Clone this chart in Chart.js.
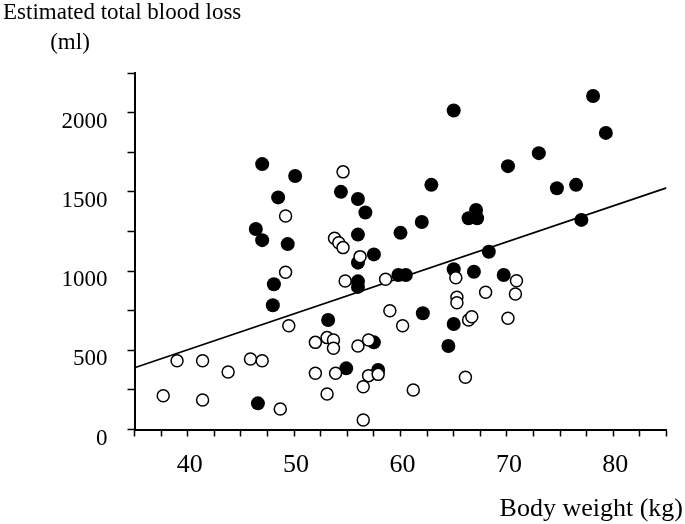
<!DOCTYPE html>
<html>
<head>
<meta charset="utf-8">
<script src="https://cdn.jsdelivr.net/npm/chart.js@4/dist/chart.umd.min.js"></script>
<style>
    html, body { margin: 0; padding: 0; background: #fff; }
    #wrap { width: 685px; height: 524px; position: relative; }
</style>
</head>
<body>
<div id="wrap"><canvas id="blood-chart"></canvas></div>
<script>
// Filled circles: body weight (kg) / estimated blood loss (ml)
const filledWeight = [47.0, 50.1, 54.4, 56.0, 48.5, 46.4, 47.0, 49.4, 56.7, 56.0,
    57.5, 56.0, 56.0, 56.0, 48.1, 48.0, 53.2, 57.5, 54.9, 57.9,
    46.6, 59.8, 60.5, 62.1, 60.0, 62.0, 62.9, 65.0, 65.0, 65.0,
    64.5, 66.9, 66.4, 67.2, 67.1, 68.3, 69.7, 70.1, 73.0, 74.7,
    76.5, 77.0, 78.1, 79.3];
const filledLoss = [1675, 1600, 1500, 1455, 1465, 1265, 1195, 1170, 1370, 1230,
    1105, 1053, 935, 900, 917, 784, 691, 550, 386, 376,
    165, 975, 975, 734, 1241, 1310, 1544, 2013, 1011, 666,
    527, 996, 1333, 1333, 1386, 1122, 975, 1662, 1744, 1523,
    1544, 1323, 2105, 1872];

// Open circles
const openWeight = [54.6, 49.2, 53.8, 54.2, 54.6, 56.2, 49.2, 54.8, 49.5, 58.6,
    52.0, 53.1, 53.7, 53.7, 56.0, 57.0, 59.0, 60.2, 39.0, 41.4,
    45.9, 47.0, 43.8, 52.0, 53.9, 57.0, 57.9, 37.7, 41.4, 53.1,
    48.7, 56.5, 56.5, 61.2, 66.1, 65.2, 65.3, 65.3, 66.4, 66.7,
    68.0, 70.1, 70.9, 70.8];
const openLoss = [1626, 1348, 1207, 1179, 1148, 1091, 992, 937, 655, 948,
    550, 580, 565, 513, 527, 565, 750, 655, 434, 434,
    445, 434, 363, 355, 355, 340, 348, 213, 186, 224,
    129, 270, 60, 249, 330, 958, 835, 800, 691, 712,
    866, 702, 939, 855];

// Regression line end points
const lineWeight = [35, 85];
const lineLoss = [390, 1525];

const xLabels = [40, 50, 60, 70, 80];
const yLabels = [0, 500, 1000, 1500, 2000];

const SERIF = '"Liberation Serif", "DejaVu Serif", serif';

function toPoints(xs, ys) {
    return xs.map((x, i) => ({ x: x, y: ys[i] }));
}

// draws the two axis titles where the original figure has them
const axisTitles = {
    id: 'axisTitles',
    afterDraw(chart) {
        const ctx = chart.ctx;
        ctx.save();
        ctx.fillStyle = '#000';
        ctx.textBaseline = 'alphabetic';
        ctx.font = '23px ' + SERIF;
        ctx.textAlign = 'left';
        ctx.fillText('Estimated total blood loss', 3, 19);
        ctx.textAlign = 'center';
        ctx.fillText('(ml)', 70, 49);
        ctx.font = '26px ' + SERIF;
        ctx.textAlign = 'right';
        ctx.fillText('Body weight (kg)', 683, 516);
        ctx.restore();
    }
};

function initializeChart() {
    const ctx = document.getElementById('blood-chart').getContext('2d');
    new Chart(ctx, {
        type: 'scatter',
        data: {
            datasets: [{
                label: 'open',
                data: toPoints(openWeight, openLoss),
                backgroundColor: '#fff',
                borderColor: '#000',
                borderWidth: 1.5,
                pointRadius: 6,
                pointHoverRadius: 6
            }, {
                label: 'filled',
                data: toPoints(filledWeight, filledLoss),
                backgroundColor: '#000',
                borderColor: '#000',
                borderWidth: 0,
                pointRadius: 7,
                pointHoverRadius: 7
            }, {
                label: 'fit',
                data: toPoints(lineWeight, lineLoss),
                showLine: true,
                borderColor: '#000',
                borderWidth: 1.6,
                pointRadius: 0,
                fill: false
            }]
        },
        options: {
            responsive: true,
            maintainAspectRatio: false,
            animation: false,
            layout: {
                padding: { left: 0, right: 18.5, top: 73, bottom: 0 }
            },
            plugins: {
                legend: { display: false },
                tooltip: { enabled: false }
            },
            scales: {
                x: {
                    type: 'linear',
                    min: 35,
                    max: 85,
                    afterFit: (scale) => { scale.height = 94.5; },
                    border: { display: true, color: '#000', width: 2 },
                    grid: {
                        display: true,
                        drawOnChartArea: false,
                        drawTicks: true,
                        tickLength: 7,
                        tickWidth: 1.5,
                        tickColor: '#000'
                    },
                    ticks: {
                        stepSize: 2.5,
                        autoSkip: false,
                        maxRotation: 0,
                        padding: 13,
                        labelOffset: 2,
                        color: '#000',
                        font: { family: SERIF, size: 26 },
                        callback: (v) => xLabels.includes(v) ? String(v) : ''
                    }
                },
                y: {
                    type: 'linear',
                    min: 0,
                    max: 2250,
                    afterFit: (scale) => { scale.width = 134.5; },
                    border: { display: true, color: '#000', width: 2 },
                    grid: {
                        display: true,
                        drawOnChartArea: false,
                        drawTicks: true,
                        tickLength: 7,
                        tickWidth: 1.5,
                        tickColor: '#000'
                    },
                    ticks: {
                        stepSize: 250,
                        autoSkip: false,
                        padding: 20,
                        labelOffset: 9,
                        color: '#000',
                        font: { family: SERIF, size: 23 },
                        callback: (v) => yLabels.includes(v) ? String(v) : ''
                    }
                }
            }
        },
        plugins: [axisTitles]
    });
}

document.addEventListener('DOMContentLoaded', initializeChart);
</script>
</body>
</html>
